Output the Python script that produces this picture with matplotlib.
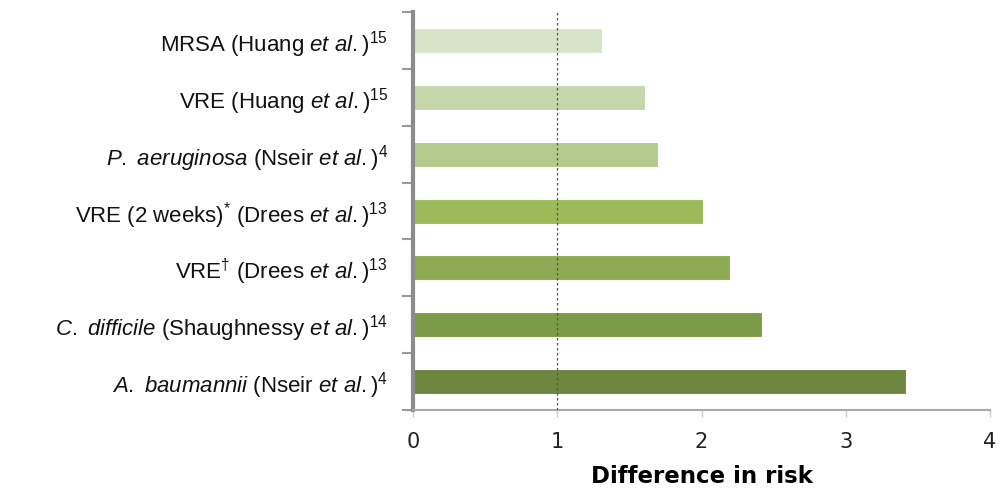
import numpy as np
import matplotlib
matplotlib.use("Agg")
import matplotlib.pyplot as plt

# data, top to bottom
labels = [
    r"MRSA (Huang $\mathit{et\ al.}$)$^{15}$",
    r"VRE (Huang $\mathit{et\ al.}$)$^{15}$",
    r"$\mathit{P.}$ $\mathit{aeruginosa}$ (Nseir $\mathit{et\ al.}$)$^{4}$",
    r"VRE (2 weeks)$^{*}$ (Drees $\mathit{et\ al.}$)$^{13}$",
    r"VRE$^{\dagger}$ (Drees $\mathit{et\ al.}$)$^{13}$",
    r"$\mathit{C.}$ $\mathit{difficile}$ (Shaughnessy $\mathit{et\ al.}$)$^{14}$",
    r"$\mathit{A.}$ $\mathit{baumannii}$ (Nseir $\mathit{et\ al.}$)$^{4}$",
]
risk_diff = [1.31, 1.61, 1.70, 2.01, 2.20, 2.42, 3.42]
xticks = [0, 1, 2, 3, 4]

bar_colors = ["#d8e4c7", "#c6d7ac", "#b3cb8d", "#9bbb59", "#8cab52", "#7c9b48", "#6d873e"]

plt.rcParams["font.family"] = ["Liberation Sans", "DejaVu Sans"]
plt.rcParams["mathtext.fontset"] = "custom"
plt.rcParams["mathtext.rm"] = "Liberation Sans"
plt.rcParams["mathtext.it"] = "Liberation Sans:italic"
plt.rcParams["mathtext.bf"] = "Liberation Sans:bold"

fig = plt.figure(figsize=(10, 4.88), dpi=100)
ax = fig.add_axes([0.413, 0.16, 0.577, 0.815])

y = np.arange(len(labels))
ax.barh(y, risk_diff, height=0.44, color=bar_colors, edgecolor="white", linewidth=0.8, zorder=2)

# reference line at 1
ax.axvline(1, color="#555555", linestyle=(0, (2, 2)), linewidth=0.9, zorder=3)

ax.set_xlim(0, 4)
ax.set_ylim(len(labels) - 0.5, -0.5)

# category labels placed between boundary ticks
ax.set_yticks(y)
ax.set_yticklabels(labels, fontsize=16, color="#111111")
ax.tick_params(axis="y", which="major", length=0, pad=18)
ax.set_yticks(np.arange(len(labels) + 1) - 0.5, minor=True)
ax.tick_params(axis="y", which="minor", length=8, width=1.5, color="#999999")

ax.set_xticks(xticks)
ax.set_xticklabels([str(t) for t in xticks], family="DejaVu Sans", fontsize=15, color="#222222")
ax.tick_params(axis="x", length=5, width=1, color="#cccccc", pad=11)
ax.set_xlabel("Difference in risk", family="DejaVu Sans", fontsize=16.5, fontweight="bold", labelpad=9)

for s in ["top", "right"]:
    ax.spines[s].set_visible(False)
ax.spines["left"].set_color("#8c8c8c")
ax.spines["left"].set_linewidth(3)
ax.spines["bottom"].set_color("#aaaaaa")
ax.spines["bottom"].set_linewidth(1.5)

fig.savefig("out.png", dpi=100)
